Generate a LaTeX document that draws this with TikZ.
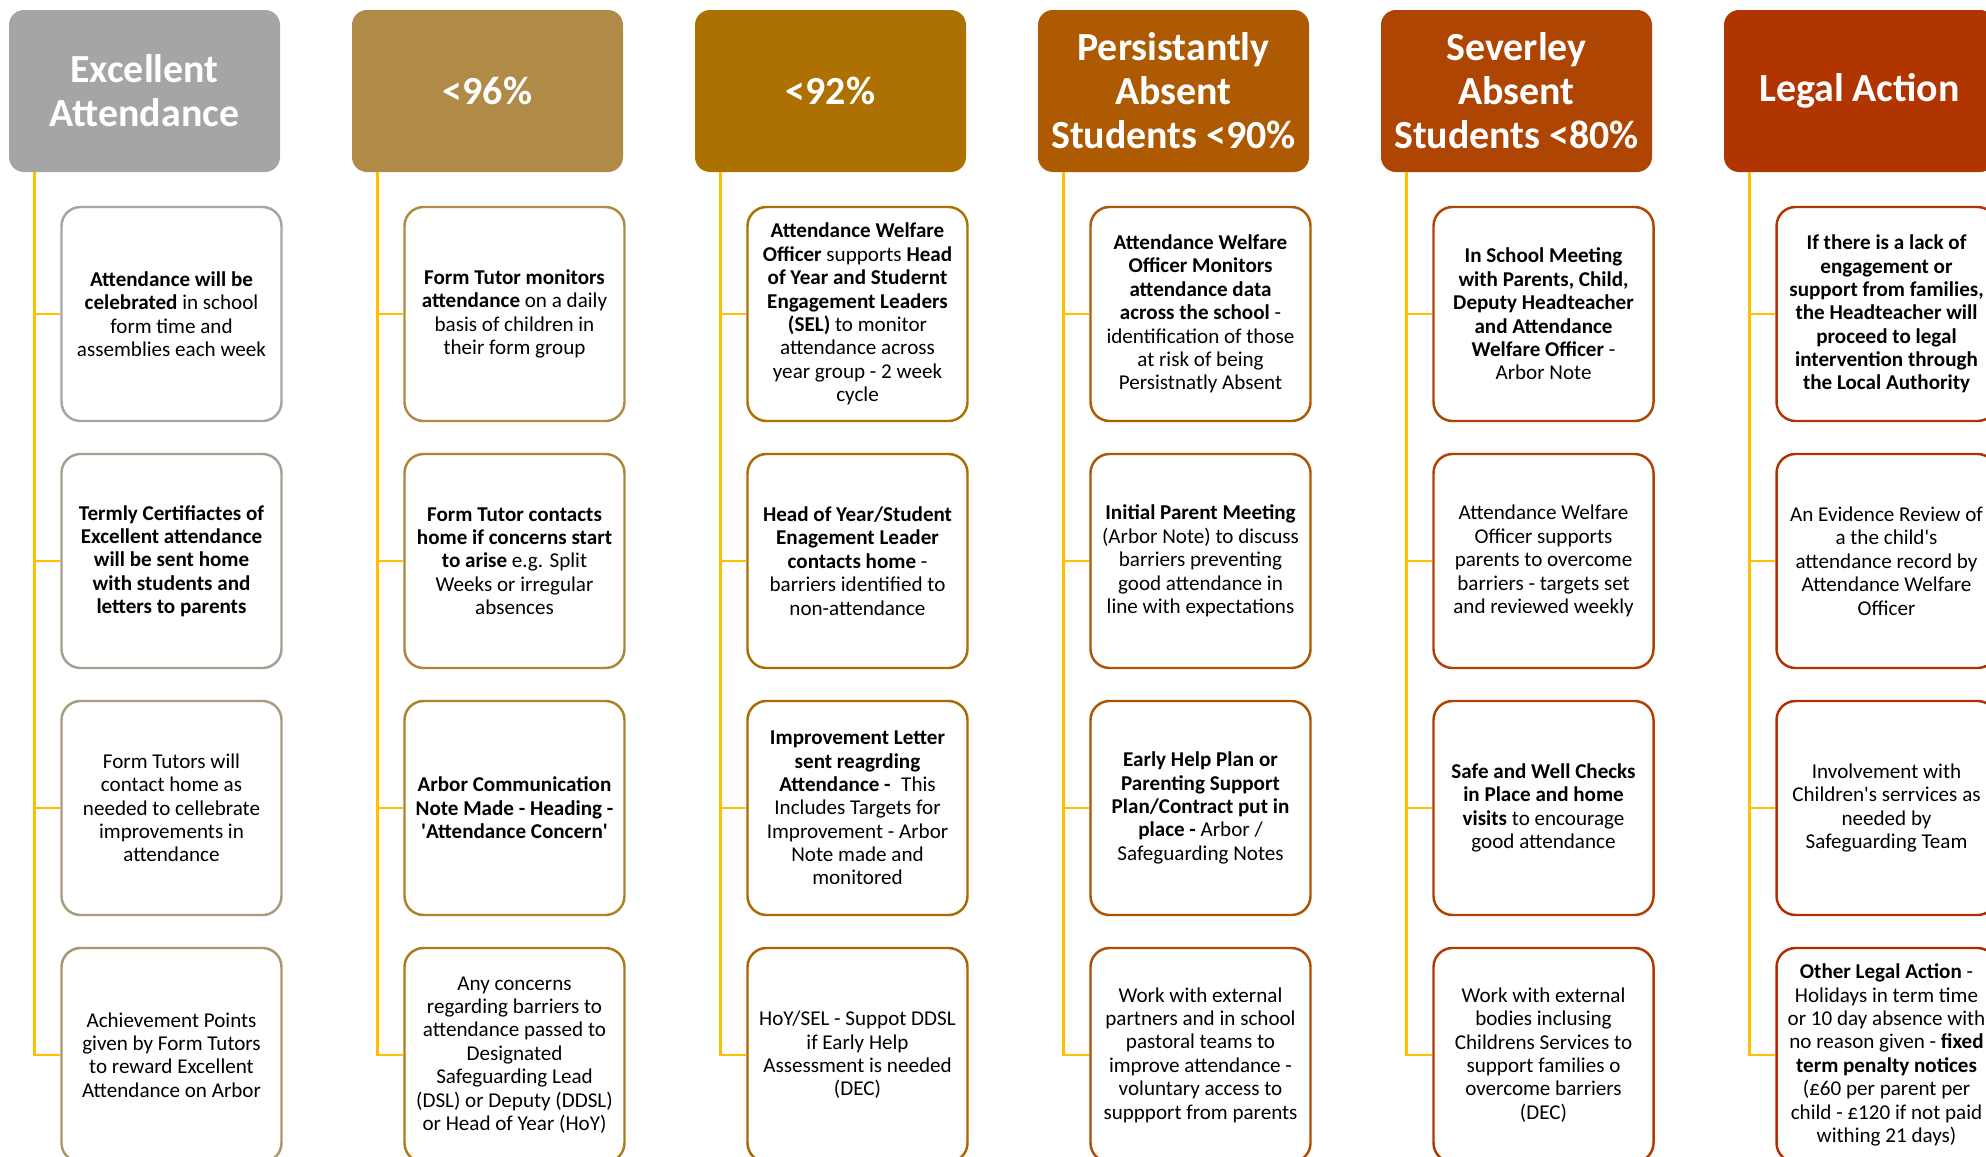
\documentclass[tikz,border=0pt]{standalone}
\usepackage{fontspec}
\setmainfont{Carlito}

\definecolor{hdgrey}{HTML}{A5A5A5}
\definecolor{hdgold}{HTML}{AF8B47}
\definecolor{hdamber}{HTML}{AC7100}
\definecolor{hdrust}{HTML}{AD5A03}
\definecolor{hdburnt}{HTML}{AF4503}
\definecolor{hdred}{HTML}{B03500}
\definecolor{hdend}{HTML}{B22800}
\definecolor{linkyellow}{HTML}{FFC000}

\tikzset{
    header/.style={rounded corners=0.3cm, minimum width=5.42cm, minimum height=3.24cm,
        inner sep=0pt, align=center, text=white, font=\fontsize{22.7}{25}\selectfont\bfseries},
    card/.style={line width=1.4pt, fill=white, rounded corners=0.38cm, minimum width=4.4cm,
        minimum height=4.28cm, inner sep=0pt, align=center, font=\fontsize{12}{13.3}\selectfont},
    cardA/.style={card, draw=hdgrey!#1!hdgold},
    cardB/.style={card, draw=hdgold!#1!hdamber},
    cardC/.style={card, draw=hdamber!#1!hdrust},
    cardD/.style={card, draw=hdrust!#1!hdburnt},
    cardE/.style={card, draw=hdburnt!#1!hdred},
    cardF/.style={card, draw=hdred!#1!hdend},
    branch/.style={linkyellow, line width=1.4pt}
}

\begin{document}
\begin{tikzpicture}
\useasboundingbox (0,0) rectangle (39.72,-23.12);

% headings
\node[header, fill=hdgrey] (hd1) at (2.89,-1.82) {Excellent\\Attendance};
\node[header, fill=hdgold] (hd2) at (9.75,-1.82) {<96\%};
\node[header, fill=hdamber] (hd3) at (16.61,-1.82) {<92\%};
\node[header, fill=hdrust] (hd4) at (23.47,-1.82) {Persistantly\\Absent\\Students <90\%};
\node[header, fill=hdburnt] (hd5) at (30.33,-1.82) {Severley\\Absent\\Students <80\%};
\node[header, fill=hdred] (hd6) at (37.19,-1.82) {Legal Action};

% excellent attendance
\node[cardA=100] (c1-1) at (3.43,-6.28) {\textbf{Attendance will be}\\\textbf{celebrated} in school\\form time and\\assemblies each week};
\node[cardA=80] (c1-2) at (3.43,-11.22) {\textbf{Termly Certifiactes of}\\\textbf{Excellent attendance}\\\textbf{will be sent home}\\\textbf{with students and}\\\textbf{letters to parents}};
\node[cardA=60] (c1-3) at (3.43,-16.16) {Form Tutors will\\contact home as\\needed to cellebrate\\improvements in\\attendance};
\node[cardA=40] (c1-4) at (3.43,-21.10) {Achievement Points\\given by Form Tutors\\to reward Excellent\\Attendance on Arbor};

% below 96
\node[cardB=100] (c2-1) at (10.29,-6.28) {\textbf{Form Tutor monitors}\\\textbf{attendance} on a daily\\basis of children in\\their form group};
\node[cardB=80] (c2-2) at (10.29,-11.22) {\textbf{Form Tutor contacts}\\\textbf{home if concerns start}\\\textbf{to arise} e.g. Split\\Weeks or irregular\\absences};
\node[cardB=60] (c2-3) at (10.29,-16.16) {\textbf{Arbor Communication}\\\textbf{Note Made - Heading -}\\\textbf{\textquotesingle Attendance Concern\textquotesingle}};
\node[cardB=40] (c2-4) at (10.29,-21.10) {Any concerns\\regarding barriers to\\attendance passed to\\Designated\\Safeguarding Lead\\(DSL) or Deputy (DDSL)\\or Head of Year (HoY)};

% below 92
\node[cardC=100] (c3-1) at (17.15,-6.28) {\textbf{Attendance Welfare}\\\textbf{Officer} supports \textbf{Head}\\\textbf{of Year and Studernt}\\\textbf{Engagement Leaders}\\\textbf{(SEL)} to monitor\\attendance across\\year group - 2 week\\cycle};
\node[cardC=80] (c3-2) at (17.15,-11.22) {\textbf{Head of Year/Student}\\\textbf{Enagement Leader}\\\textbf{contacts home} -\\barriers identified to\\non-attendance};
\node[cardC=60] (c3-3) at (17.15,-16.16) {\textbf{Improvement Letter}\\\textbf{sent reagrding}\\\textbf{Attendance -}\enspace This\\Includes Targets for\\Improvement - Arbor\\Note made and\\monitored};
\node[cardC=40] (c3-4) at (17.15,-21.10) {HoY/SEL - Suppot DDSL\\if Early Help\\Assessment is needed\\(DEC)};

% persistently absent
\node[cardD=100] (c4-1) at (24.01,-6.28) {\textbf{Attendance Welfare}\\\textbf{Officer Monitors}\\\textbf{attendance data}\\\textbf{across the school} -\\identification of those\\at risk of being\\Persistnatly Absent};
\node[cardD=80] (c4-2) at (24.01,-11.22) {\textbf{Initial Parent Meeting}\\(Arbor Note) to discuss\\barriers preventing\\good attendance in\\line with expectations};
\node[cardD=60] (c4-3) at (24.01,-16.16) {\textbf{Early Help Plan or}\\\textbf{Parenting Support}\\\textbf{Plan/Contract put in}\\\textbf{place -} Arbor /\\Safeguarding Notes};
\node[cardD=40] (c4-4) at (24.01,-21.10) {Work with external\\partners and in school\\pastoral teams to\\improve attendance -\\voluntary access to\\suppport from parents};

% severely absent
\node[cardE=100] (c5-1) at (30.87,-6.28) {\textbf{In School Meeting}\\\textbf{with Parents, Child,}\\\textbf{Deputy Headteacher}\\\textbf{and Attendance}\\\textbf{Welfare Officer} -\\Arbor Note};
\node[cardE=80] (c5-2) at (30.87,-11.22) {Attendance Welfare\\Officer supports\\parents to overcome\\barriers - targets set\\and reviewed weekly};
\node[cardE=60] (c5-3) at (30.87,-16.16) {\textbf{Safe and Well Checks}\\\textbf{in Place and home}\\\textbf{visits} to encourage\\good attendance};
\node[cardE=40] (c5-4) at (30.87,-21.10) {Work with external\\bodies inclusing\\Childrens Services to\\support families o\\overcome barriers\\(DEC)};

% legal action
\node[cardF=100] (c6-1) at (37.73,-6.28) {\textbf{If there is a lack of}\\\textbf{engagement or}\\\textbf{support from families,}\\\textbf{the Headteacher will}\\\textbf{proceed to legal}\\\textbf{intervention through}\\\textbf{the Local Authority}};
\node[cardF=80] (c6-2) at (37.73,-11.22) {An Evidence Review of\\a the child\textquotesingle s\\attendance record by\\Attendance Welfare\\Officer};
\node[cardF=60] (c6-3) at (37.73,-16.16) {Involvement with\\Children\textquotesingle s serrvices as\\needed by\\Safeguarding Team};
\node[cardF=40] (c6-4) at (37.73,-21.10) {\textbf{Other Legal Action} -\\Holidays in term time\\or 10 day absence with\\no reason given - \textbf{fixed}\\\textbf{term penalty notices}\\(£60 per parent per\\child - £120 if not paid\\withing 21 days)};

% links
\foreach \i in {1,...,6}
    {
        \coordinate (top\i) at ([xshift=-2.2cm]hd\i.south);
        \foreach \j in {1,...,4}
            \draw[branch] (top\i) |- (c\i-\j.west);
    }
\end{tikzpicture}
\end{document}
